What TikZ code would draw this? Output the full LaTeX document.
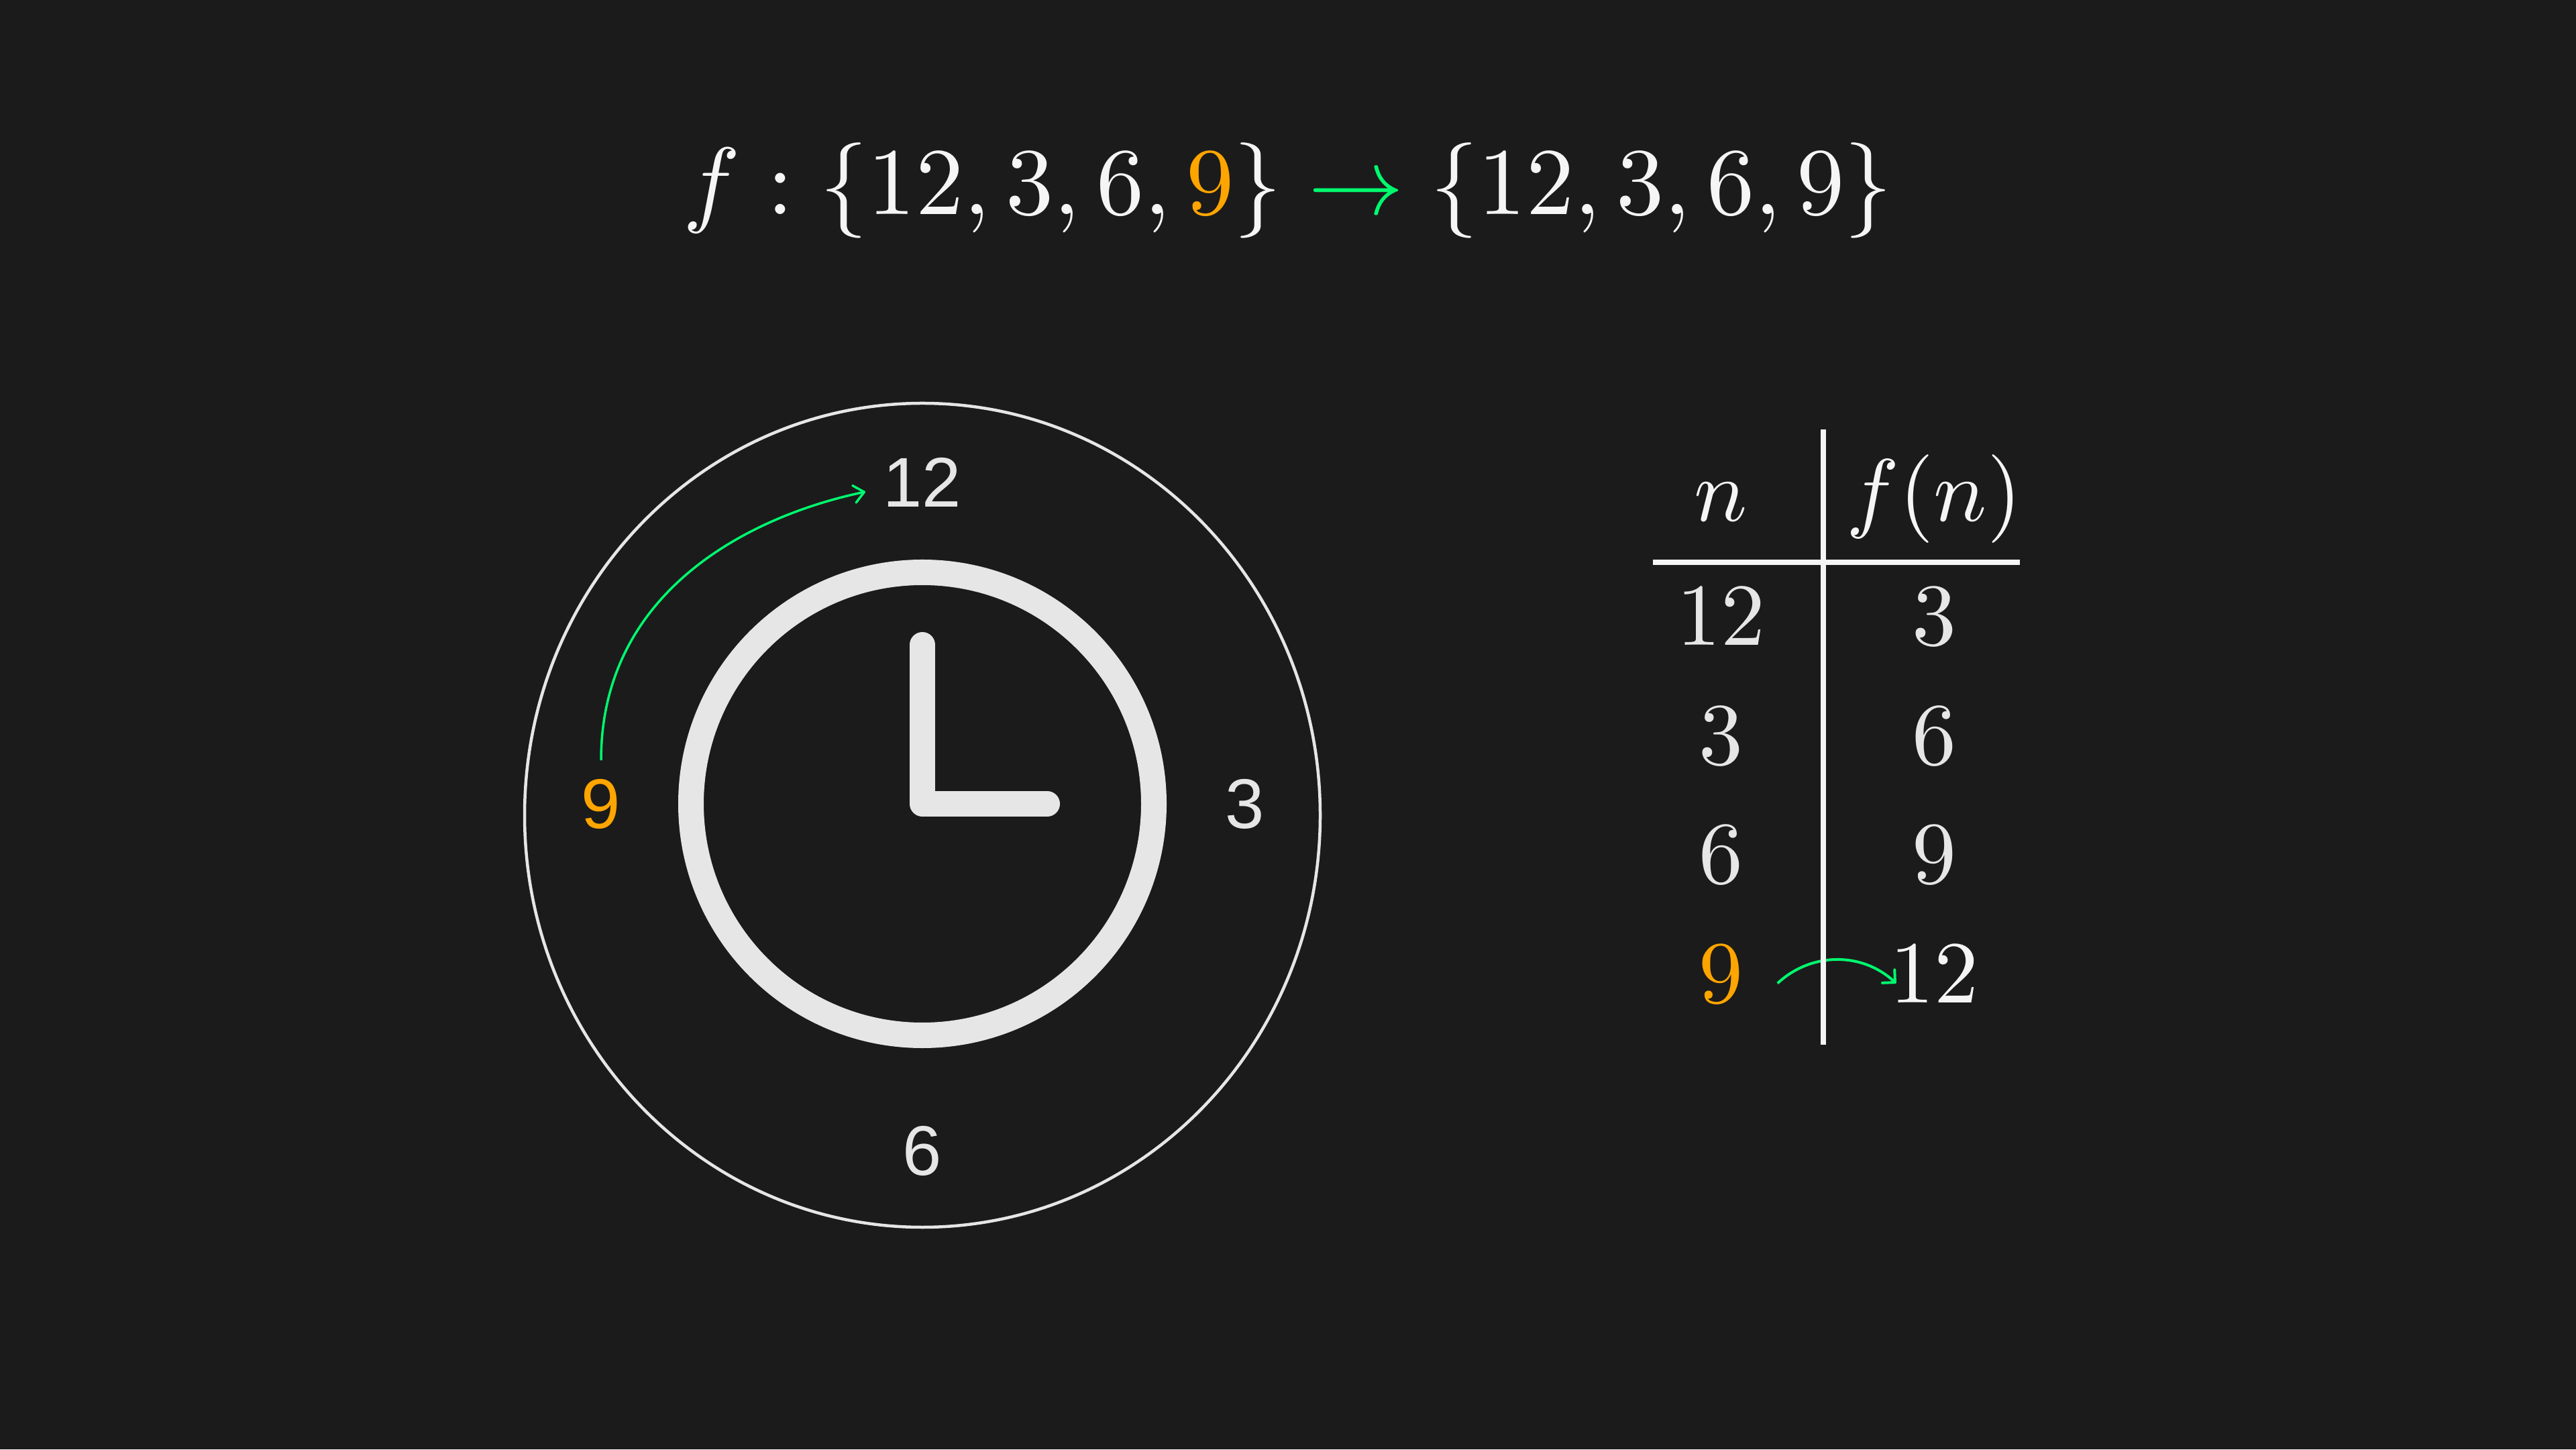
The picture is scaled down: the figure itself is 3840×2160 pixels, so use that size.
\documentclass[tikz,border=0pt]{standalone}
\usepackage[no-math]{fontspec}
\newfontfamily\clockfont{Liberation Sans}
\DeclareFontShape{OT1}{cmr}{m}{n}{<->cmr10}{}
\DeclareFontShape{OML}{cmm}{m}{it}{<->cmmi10}{}
\DeclareFontShape{OMS}{cmsy}{m}{n}{<->cmsy10}{}
\DeclareFontShape{OMX}{cmex}{m}{n}{<->cmex10}{}
\usetikzlibrary{arrows.meta}
\definecolor{bg}{RGB}{27,27,27}
\definecolor{fg}{RGB}{230,230,230}
\definecolor{fgw}{RGB}{245,245,245}
\definecolor{hl}{RGB}{255,165,0}
\definecolor{grn}{RGB}{0,250,110}
\begin{document}
\begin{tikzpicture}[x=0.01cm,y=0.01cm,
  clocknum/.style={text=fg, font=\clockfont\fontsize{29.8}{36}\selectfont, inner sep=0pt, anchor=base},
  tabnum/.style={text=fgw, font=\fontsize{37.5}{45}\selectfont, inner sep=0pt, anchor=base},
  ring/.style={draw=fg, line width=10.81pt},
  hand/.style={draw=fg, line width=10.81pt, line cap=round, line join=round},
  rim/.style={draw=fg, line width=1.28pt},
  rule/.style={draw=fgw, line width=2.28pt},
  greenarrow/.style={draw=grn, line width=1pt, -{Straight Barb[length=4.3pt,width=7.4pt,round]}},
  tablearrow/.style={draw=grn, line width=1.14pt, -{Straight Barb[length=3.8pt,width=7.6pt,round]}}]
\fill[bg] (0,0) rectangle (3840,2160);
\useasboundingbox (0,0) rectangle (3840,2160);

% formula
\node[text=fgw, font=\fontsize{40.5}{48}\selectfont, inner sep=0pt, anchor=base] (formula) at (1920,1840)
  {$f : \{12, 3, 6, {\color{hl}9}\} \mathrel{\color{grn}\to} \{12, 3, 6, 9\}$};

% clock
\coordinate (cc) at (1375,962);
\path[rim] (1375,945) ellipse [x radius=593, y radius=614];
\path[ring] (cc) circle [radius=345];
\path[hand] (1375,1199) -- (cc) -- (1561,962);

\node[clocknum] (c12) at (1374.5,1404) {12};
\node[clocknum] (c3) at (1856,925) {3};
\node[clocknum] (c6) at (1375,409) {6};
\node[clocknum, text=hl] (c9) at (896,925) {9};

\draw[greenarrow] ([yshift=0.28cm]c9.north) .. controls +(0,250) and +(-176,-37) .. ([xshift=-0.255cm,yshift=-0.135cm]c12.west);

% table
\node[tabnum] (h1) at (2565,1383) {$n$};
\node[tabnum] (h2) at (2883,1383) {$f(n)$};
\node[tabnum, text=fg] (a1) at (2565,1198) {$12$};
\node[tabnum, text=fg] (b1) at (2883,1198) {$3$};
\node[tabnum, text=fg] (a2) at (2565,1020.5) {$3$};
\node[tabnum, text=fg] (b2) at (2883,1020.5) {$6$};
\node[tabnum, text=fg] (a3) at (2565,843) {$6$};
\node[tabnum, text=fg] (b3) at (2883,843) {$9$};
\node[tabnum, text=hl] (a4) at (2565,665.5) {$9$};
\node[tabnum] (b4) at (2883,665.5) {$12$};

\draw[tablearrow] ([xshift=0.51cm,yshift=-0.135cm]a4.east) to[bend left=43] ([xshift=0.1cm,yshift=-0.135cm]b4.west);

\path[rule] (2718,1520) -- (2718,603);
\path[rule] (2464,1322) -- (3011,1322);
\end{tikzpicture}
\end{document}
